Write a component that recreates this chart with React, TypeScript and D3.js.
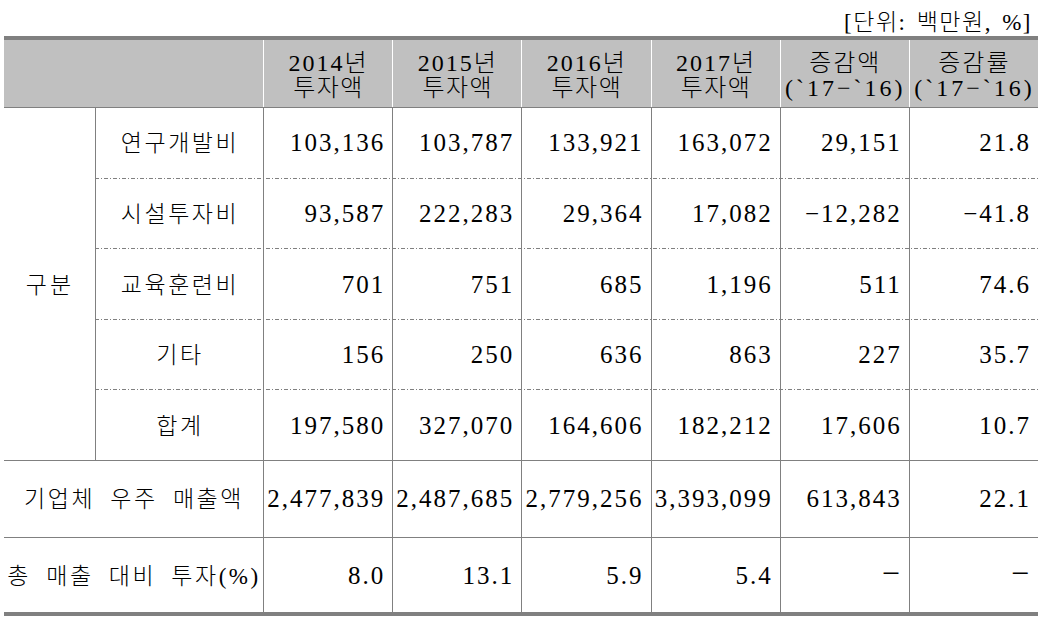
import { useEffect, useRef } from "react";
import * as d3 from "d3";

const unitLabel = "[단위: 백만원, %]";
const headerTop = ["2014년", "2015년", "2016년", "2017년", "증감액", "증감률"];
const headerBottom = ["투자액", "투자액", "투자액", "투자액", "(`17−`16)", "(`17−`16)"];
const groupLabel = "구분";
const categories = ["연구개발비", "시설투자비", "교육훈련비", "기타", "합계"];
const rdValues = [103136, 103787, 133921, 163072, 29151, 21.8];
const facilityValues = [93587, 222283, 29364, 17082, -12282, -41.8];
const trainingValues = [701, 751, 685, 1196, 511, 74.6];
const otherValues = [156, 250, 636, 863, 227, 35.7];
const totalValues = [197580, 327070, 164606, 182212, 17606, 10.7];
const summaryLabels = ["기업체 우주 매출액", "총 매출 대비 투자(%)"];
const salesValues = [2477839, 2487685, 2779256, 3393099, 613843, 22.1];
const ratioValues = [8.0, 13.1, 5.9, 5.4, null, null];

const FONT = "'Liberation Serif', 'Noto Sans CJK KR', serif";
const LINE = "#808080";

const App = () => {
  const svgRef = useRef(null);

  useEffect(() => {
    const svg = d3.select(svgRef.current);
    svg.selectAll("*").remove();

    const left = 4;
    const right = 1038;
    const top = 40;
    const headBottom = 107;
    const catBottom = 460;
    const bottom = 613;

    const x = d3.scaleBand().domain(d3.range(6)).range([263, right]);
    const yCat = d3.scaleBand().domain(categories).range([headBottom, catBottom]);
    const ySum = d3.scaleBand().domain(summaryLabels).range([catBottom, bottom]);

    const intFmt = d3.format(",d");
    const decFmt = d3.format(".1f");
    const fmt = (v, col, decimals) =>
      v == null ? "−" : decimals || col === 5 ? decFmt(v) : intFmt(v);

    // header band
    svg.append("rect")
      .attr("x", left).attr("y", top)
      .attr("width", right - left).attr("height", headBottom - top)
      .attr("fill", "#c0c0c0");

    svg.append("line")
      .attr("x1", left).attr("x2", right)
      .attr("y1", top - 2).attr("y2", top - 2)
      .attr("stroke", LINE).attr("stroke-width", 4);

    svg.append("line")
      .attr("x1", left).attr("x2", right)
      .attr("y1", bottom + 1).attr("y2", bottom + 1)
      .attr("stroke", LINE).attr("stroke-width", 4);

    // vertical lines
    const cols = d3.range(6).map(i => Math.round(x(i)) + 0.5);
    cols.forEach(cx => {
      svg.append("line")
        .attr("x1", cx).attr("x2", cx).attr("y1", top).attr("y2", headBottom)
        .attr("stroke", "#ffffff");
      svg.append("line")
        .attr("x1", cx).attr("x2", cx).attr("y1", headBottom).attr("y2", bottom - 1)
        .attr("stroke", LINE);
    });
    svg.append("line")
      .attr("x1", 95.5).attr("x2", 95.5).attr("y1", headBottom).attr("y2", catBottom)
      .attr("stroke", LINE);

    // horizontal lines
    [headBottom, catBottom, ySum(summaryLabels[1])].forEach(yy => {
      const py = Math.round(yy) + 0.5;
      svg.append("line")
        .attr("x1", left).attr("x2", right).attr("y1", py).attr("y2", py)
        .attr("stroke", LINE);
    });
    categories.slice(1).forEach(c => {
      const py = Math.round(yCat(c)) + 0.5;
      svg.append("line")
        .attr("x1", 95).attr("x2", right).attr("y1", py).attr("y2", py)
        .attr("stroke", LINE).attr("stroke-dasharray", "4,2,1,2");
    });

    const text = (tx, ty, str, anchor = "middle", size = 24, spacing = 2, words = 0) =>
      svg.append("text")
        .attr("x", tx).attr("y", ty)
        .attr("text-anchor", anchor)
        .attr("font-family", FONT)
        .attr("font-size", size)
        .attr("font-weight", 300)
        .attr("letter-spacing", spacing)
        .attr("word-spacing", words)
        .attr("fill", "#000")
        .text(str);

    text(1032, 30, unitLabel, "end", 23, 1.5, 3);

    // header text
    const headMid = (top + headBottom) / 2;
    headerTop.forEach((h, i) => {
      const cx = x(i) + x.bandwidth() / 2 + 1;
      text(cx, headMid - 3, h, "middle", 24, 2);
      const sub = headerBottom[i];
      text(cx, headMid + 22, sub, "middle", 24, sub.length > 3 ? 3 : 1.5);
    });

    // category rows
    const catRows = [rdValues, facilityValues, trainingValues, otherValues, totalValues];
    text(50, (headBottom + catBottom) / 2 + 9, groupLabel, "middle", 23, 3);
    categories.forEach((c, r) => {
      const cy = yCat(c) + yCat.bandwidth() / 2 + 9;
      text(180, cy, c, "middle", 23, 2.5);
      catRows[r].forEach((v, i) => {
        const s = fmt(v, i, false);
        text(x(i) + x.bandwidth() - 7, cy, s, "end", 25, 2);
      });
    });

    // summary rows
    const sumRows = [salesValues, ratioValues];
    summaryLabels.forEach((s, r) => {
      const cy = ySum(s) + ySum.bandwidth() / 2 + 9;
      text(134, cy, s, "middle", 23, 2.5, 7);
      sumRows[r].forEach((v, i) => {
        const str = fmt(v, i, r === 1);
        text(x(i) + x.bandwidth() - 7, cy, str, "end", v == null ? 32 : 25, 2);
      });
    });
  }, []);

  return (
    <svg
      ref={svgRef}
      width={1060}
      height={628}
      style={{ position: "absolute", left: 0, top: 0, background: "#fff" }}
    ></svg>
  );
};

export default App;
